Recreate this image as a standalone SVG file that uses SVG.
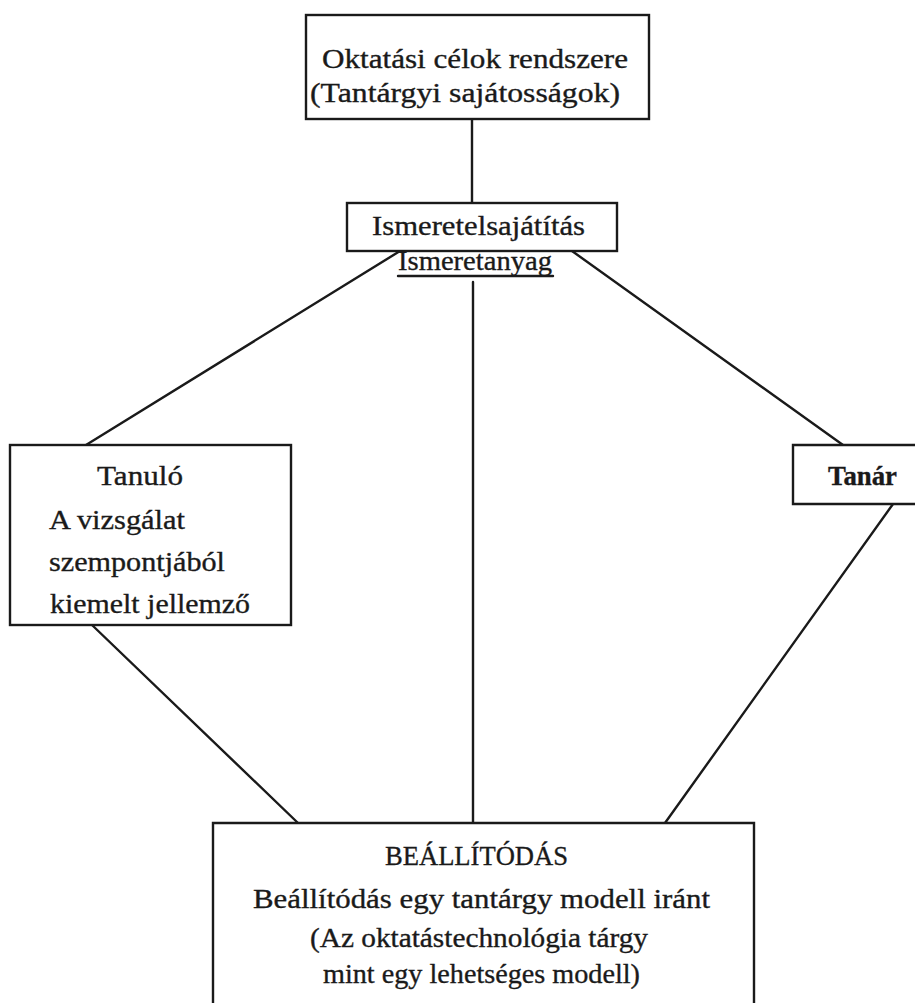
<svg xmlns="http://www.w3.org/2000/svg" width="915" height="1003" viewBox="0 0 915 1003">
<style>
.box{fill:#fff;stroke:#1a1a1a;stroke-width:2.4}
.ln{stroke:#1a1a1a;stroke-width:2.4;fill:none;stroke-linecap:round}
text{font-family:"Liberation Serif","Times New Roman",serif;font-size:28px;fill:#1a1a1a;stroke:#1a1a1a;stroke-width:0.35}
.b{font-weight:bold}
</style>
<rect width="915" height="1003" fill="#fff"/>
<g id="connectors">
<line class="ln" x1="472" y1="119" x2="472" y2="203"/>
<line class="ln" x1="400" y1="251" x2="86" y2="445"/>
<line class="ln" x1="572" y1="251" x2="843" y2="445"/>
<line class="ln" x1="473" y1="282" x2="473" y2="823"/>
<line class="ln" x1="92" y1="625" x2="298" y2="823"/>
<line class="ln" x1="893" y1="504" x2="665" y2="823"/>
</g>
<g id="node-celok">
<rect class="box" x="306" y="15" width="343" height="104"/>
<text x="322" y="68" textLength="306" lengthAdjust="spacingAndGlyphs">Oktatási célok rendszere</text>
<text x="310" y="102" textLength="310" lengthAdjust="spacingAndGlyphs">(Tantárgyi sajátosságok)</text>
</g>
<g id="node-ismeret">
<rect class="box" x="347" y="203" width="270" height="48"/>
<text x="372" y="235" textLength="213" lengthAdjust="spacingAndGlyphs">Ismeretelsajátítás</text>
<text x="398" y="270" textLength="154" lengthAdjust="spacingAndGlyphs">Ismeretanyag</text>
<line class="ln" x1="398" y1="276" x2="553" y2="276" stroke-width="1.6"/>
</g>
<g id="node-tanulo">
<rect class="box" x="10" y="445" width="281" height="180"/>
<text x="97" y="485" textLength="86" lengthAdjust="spacingAndGlyphs">Tanuló</text>
<text x="49" y="529" textLength="136" lengthAdjust="spacingAndGlyphs">A vizsgálat</text>
<text x="49" y="571" textLength="176" lengthAdjust="spacingAndGlyphs">szempontjából</text>
<text x="50" y="613" textLength="200" lengthAdjust="spacingAndGlyphs">kiemelt jellemző</text>
</g>
<g id="node-tanar">
<path class="box" d="M925,445 H793 V504 H925"/>
<text class="b" x="828" y="485" textLength="69" lengthAdjust="spacingAndGlyphs">Tanár</text>
</g>
<g id="node-beallitodas">
<path class="box" d="M213,1010 V823 H754 V1010"/>
<text x="385" y="865" textLength="183" lengthAdjust="spacingAndGlyphs">BEÁLLÍTÓDÁS</text>
<text x="253" y="908" textLength="457" lengthAdjust="spacingAndGlyphs">Beállítódás egy tantárgy modell iránt</text>
<text x="310" y="947" textLength="338" lengthAdjust="spacingAndGlyphs">(Az oktatástechnológia tárgy</text>
<text x="323" y="983" textLength="317" lengthAdjust="spacingAndGlyphs">mint egy lehetséges modell)</text>
</g>
</svg>
